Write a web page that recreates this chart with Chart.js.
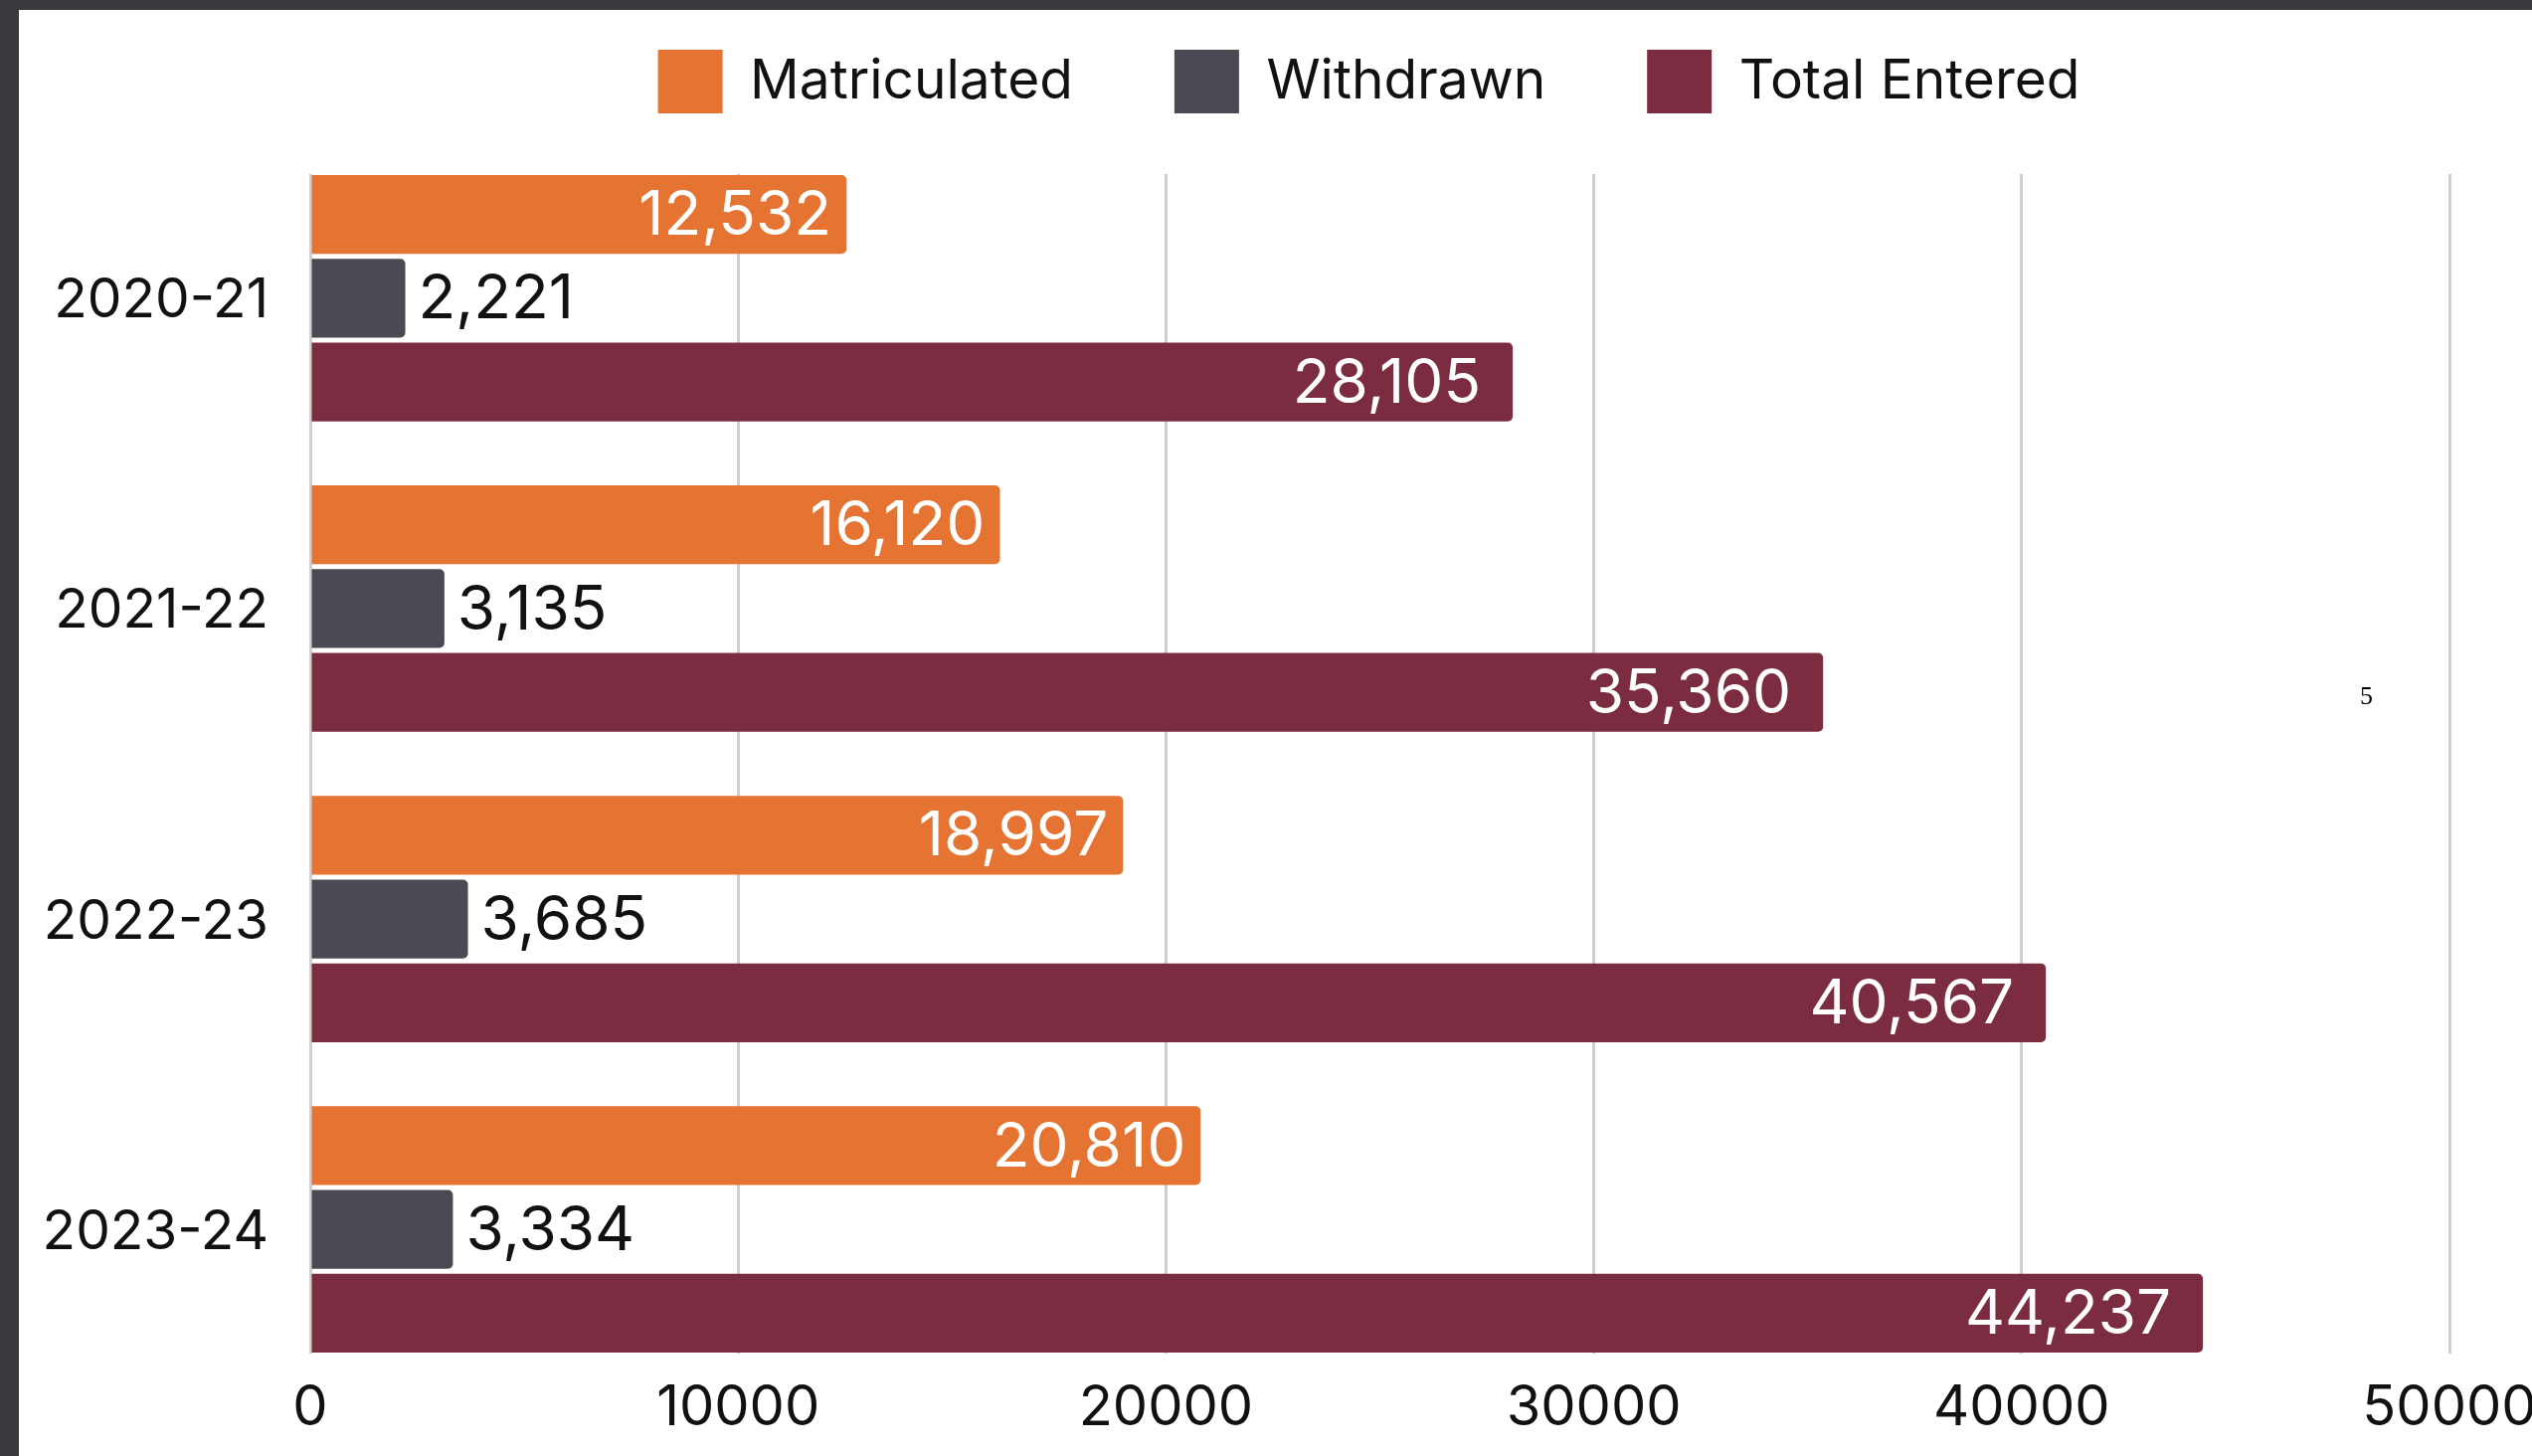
<!DOCTYPE html>
<html>
<head>
<meta charset="utf-8">
<script src="https://cdn.jsdelivr.net/npm/chart.js@4/dist/chart.umd.min.js"></script>
<style>
html,body{margin:0;padding:0;width:2546px;height:1464px;overflow:hidden;background:#3a3940;}
#paper{position:absolute;left:19px;top:10px;width:2527px;height:1454px;background:#fff;overflow:hidden;}
#c{position:absolute;left:0;}
#pg{position:absolute;left:2354px;top:677px;font-family:"Liberation Serif",serif;font-size:26px;line-height:26px;color:#000;}
</style>
</head>
<body>
<div id="paper">
  <canvas id="c"></canvas>
  <div id="pg">5</div>
</div>
<script>
// ---- data ----
const categories = ['2020-21', '2021-22', '2022-23', '2023-24'];
const seriesNames = ['Matriculated', 'Withdrawn', 'Total Entered'];
const matriculated = [12532, 16120, 18997, 20810];
const withdrawn = [2221, 3135, 3685, 3334];
const totalEntered = [28105, 35360, 40567, 44237];
const xTicks = [0, 10000, 20000, 30000, 40000, 50000];

// ---- layout / style ----
const colors = ['#E57433', '#494A54', '#7B2C40'];
const LEG_PAD = 102;          // legend padding
const LEG_TOP = 40;           // legend box top within paper
const LEG_SHIFT = -11;        // horizontal nudge of the legend
const CANVAS_TOP = LEG_TOP - LEG_PAD;
const CANVAS_W = 2527;
const CANVAS_H = 1454 - CANVAS_TOP;
const SPACER = 51;
const Y_AXIS_W = 293;
const X_AXIS_H = 103;
const labelStyle = [
  {inside: true, pad: 15},
  {inside: false, pad: 13},
  {inside: true, pad: 32}
];

const cv = document.getElementById('c');
cv.width = CANVAS_W; cv.height = CANVAS_H;
cv.style.width = CANVAS_W + 'px'; cv.style.height = CANVAS_H + 'px';
cv.style.top = CANVAS_TOP + 'px';

const fmt = v => v.toLocaleString('en-US');

const valueLabels = {
  id: 'valueLabels',
  afterLayout(chart) {
    if (chart.legend) { chart.legend.left += LEG_SHIFT; chart.legend.right += LEG_SHIFT; }
  },
  afterDatasetsDraw(chart) {
    const ctx = chart.ctx;
    ctx.save();
    ctx.font = '400 62px Inter';
    ctx.textBaseline = 'middle';
    chart.data.datasets.forEach((ds, di) => {
      const meta = chart.getDatasetMeta(di);
      const st = labelStyle[di];
      meta.data.forEach((bar, i) => {
        const txt = fmt(ds.data[i].x);
        if (st.inside) {
          ctx.textAlign = 'right'; ctx.fillStyle = '#ffffff';
          ctx.fillText(txt, bar.x - st.pad, bar.y + 2);
        } else {
          ctx.textAlign = 'left'; ctx.fillStyle = '#111111';
          ctx.fillText(txt, bar.x + st.pad, bar.y + 2);
        }
      });
    });
    ctx.restore();
  }
};

const series = [matriculated, withdrawn, totalEntered];
const datasets = series.map((vals, si) => ({
  label: seriesNames[si],
  data: vals.map((v, i) => ({x: v, y: i})),
  backgroundColor: colors[si],
  borderWidth: 0,
  borderRadius: 5,
  borderSkipped: 'start',
  categoryPercentage: 0.81,
  barPercentage: 0.94,
  xAxisID: 'x',
  yAxisID: 'y'
}));

function build() {
  new Chart(cv, {
    type: 'bar',
    data: { datasets },
    plugins: [valueLabels],
    options: {
      indexAxis: 'y',
      responsive: false,
      animation: false,
      devicePixelRatio: 1,
      layout: { padding: { left: 0, right: 83, top: 0, bottom: 0 } },
      scales: {
        x: {
          type: 'linear', position: 'bottom',
          min: xTicks[0], max: xTicks[xTicks.length - 1],
          afterBuildTicks: s => { s.ticks = xTicks.map(v => ({value: v})); },
          ticks: { font: {family: 'Inter', size: 56}, color: '#111', padding: 22, maxRotation: 0, callback: v => String(v) },
          grid: { color: '#cfcfcf', lineWidth: 3, drawTicks: false },
          border: { display: false },
          afterFit: s => { s.height = X_AXIS_H; s.paddingLeft = 0; s.paddingRight = 0; }
        },
        xs: {
          type: 'linear', position: 'top', display: true,
          grid: { display: false }, border: { display: false }, ticks: { display: false },
          afterFit: s => { s.height = SPACER; s.paddingLeft = 0; s.paddingRight = 0; }
        },
        y: {
          type: 'linear', position: 'left', reverse: true, bounds: 'data', offset: false,
          min: -0.4, max: categories.length - 0.6,
          afterBuildTicks: s => { s.ticks = categories.map((c, i) => ({value: i})); },
          ticks: { autoSkip: false, padding: 42, labelOffset: 3,
                   font: {family: 'Inter', size: 55}, color: '#111',
                   callback: v => categories[v] },
          grid: { display: false, drawTicks: false, offset: false },
          border: { display: false },
          afterFit: s => { s.width = Y_AXIS_W; s.paddingTop = 0; s.paddingBottom = 0; }
        }
      },
      plugins: {
        tooltip: { enabled: false },
        legend: {
          position: 'top', align: 'center', fullSize: false,
          labels: { font: {family: 'Inter', size: 55}, color: '#111', boxWidth: 65, boxHeight: 64, padding: LEG_PAD }
        }
      }
    }
  });
}
if (document.fonts && document.fonts.load) {
  Promise.all([document.fonts.load('55px Inter'), document.fonts.load('26px "Liberation Serif"')]).then(build, build);
} else { build(); }
</script>
</body>
</html>
